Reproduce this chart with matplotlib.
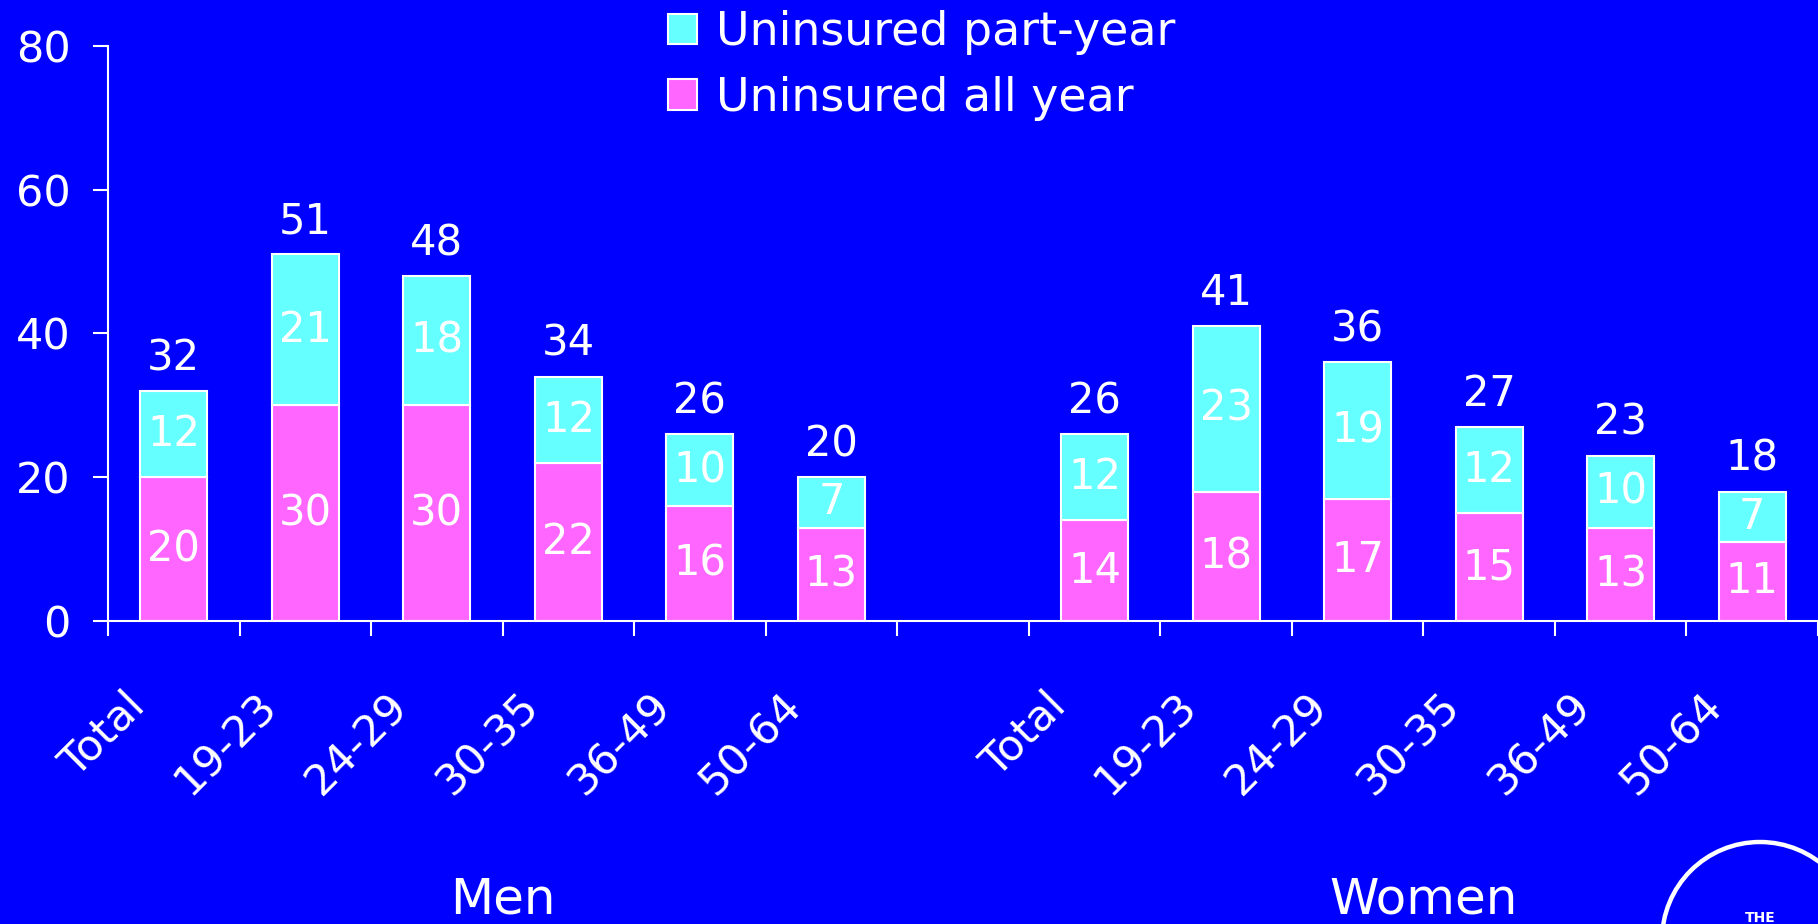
import matplotlib.pyplot as plt
import numpy as np
from matplotlib.patches import Ellipse
from matplotlib.transforms import ScaledTranslation, blended_transform_factory

BG = "#0000FF"
PINK = "#FF66FF"
CYAN = "#66FFFF"
WHITE = "white"

age_groups = ["Total", "19-23", "24-29", "30-35", "36-49", "50-64"]
sexes = ["Men", "Women"]

men_all_year = [20, 30, 30, 22, 16, 13]
men_part_year = [12, 21, 18, 12, 10, 7]
women_all_year = [14, 18, 17, 15, 13, 11]
women_part_year = [12, 23, 19, 12, 10, 7]

y_ticks = [0, 20, 40, 60, 80]

plt.rcParams.update({"font.family": "DejaVu Sans", "text.color": WHITE})

fig = plt.figure(figsize=(18.18, 9.24), dpi=100, facecolor=BG)
ax = fig.add_axes([108 / 1818, 303 / 924, 1 - 108 / 1818, 575 / 924])
ax.set_facecolor(BG)

# men in slots 0-5, one empty slot, women in slots 7-12
x_men = np.arange(len(age_groups)) + 0.5
x_women = np.arange(len(age_groups)) + 7.5
all_year = men_all_year + women_all_year
part_year = men_part_year + women_part_year
x = np.concatenate([x_men, x_women])

width = 0.51
b1 = ax.bar(x, all_year, width, color=PINK, edgecolor=WHITE, linewidth=1.5,
            label="Uninsured all year")
b2 = ax.bar(x, part_year, width, bottom=all_year, color=CYAN, edgecolor=WHITE,
            linewidth=1.5, label="Uninsured part-year")

for xi, a, p in zip(x, all_year, part_year):
    ax.text(xi, a / 2, str(a), ha="center", va="center", fontsize=30, color=WHITE)
    ax.text(xi, a + p / 2, str(p), ha="center", va="center", fontsize=30, color=WHITE)
    ax.annotate(str(a + p), (xi, a + p), xytext=(0, 15), textcoords="offset points",
                ha="center", va="baseline", fontsize=30, color=WHITE)

ax.set_xlim(0, 13)
ax.set_ylim(0, 80)
ax.set_yticks(y_ticks)
ax.set_xticks(np.arange(14))
ax.set_xticklabels([])
ax.set_xticks(x, age_groups * 2, minor=True)

for side in ["top", "right"]:
    ax.spines[side].set_visible(False)
for side in ["left", "bottom"]:
    ax.spines[side].set_color(WHITE)
    ax.spines[side].set_linewidth(1.5)

ax.tick_params(axis="y", which="major", length=11, width=1.5, color=WHITE,
               labelcolor=WHITE, labelsize=31, pad=16, direction="out")
ax.tick_params(axis="x", which="major", length=11, width=1.5, color=WHITE,
               direction="out")
ax.tick_params(axis="x", which="minor", length=0, labelcolor=WHITE,
               labelsize=31, pad=46)

shift = ScaledTranslation(-21 / 100, 0, fig.dpi_scale_trans)
for lab in ax.get_xticklabels(minor=True):
    lab.set_rotation(45)
    lab.set_ha("right")
    lab.set_va("top")
    lab.set_transform(lab.get_transform() + shift)

# group labels under the tick labels
trans = blended_transform_factory(ax.transData, fig.transFigure)
for name, xs in zip(sexes, [x_men, x_women]):
    ax.text(xs.mean(), 11 / 924, name, transform=trans, ha="center",
            va="baseline", fontsize=36, color=WHITE)

leg = ax.legend([b2, b1], ["Uninsured part-year", "Uninsured all year"],
                loc="upper left", bbox_to_anchor=(668 / 1818, 1 - 10 / 924),
                bbox_transform=fig.transFigure, frameon=False, fontsize=33,
                borderpad=0, borderaxespad=0, handlelength=0.64,
                handleheight=0.64, handletextpad=0.4, labelspacing=0.45)
for t in leg.get_texts():
    t.set_color(WHITE)

# logo in the corner
fig.patches.append(Ellipse((1760 / 1818, -16 / 924), 196 / 1818, 196 / 924,
                           transform=fig.transFigure, fill=False,
                           edgecolor=WHITE, linewidth=3.2))
fig.text(1760 / 1818, 1 - 911 / 924, "THE", ha="center", va="top",
         fontsize=10, fontweight="bold", color=WHITE)

fig.savefig("out.png", dpi=100, facecolor=BG)
